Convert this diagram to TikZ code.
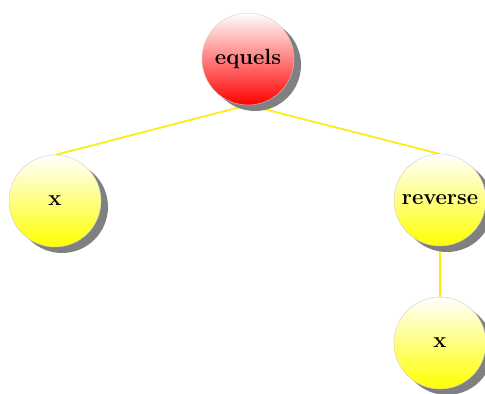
\documentclass[tikz,border=0pt]{standalone}
\usetikzlibrary{shadows}
\begin{document}
\begin{tikzpicture}[x=1pt,y=1pt,
  treenode/.style={circle, minimum size=46pt, inner sep=0pt,
    font=\fontsize{11}{13}\selectfont\bfseries,
    draw=gray!40, line width=0.2pt,
    drop shadow={fill=gray, opacity=1, shadow xshift=3.5pt, shadow yshift=-3pt}},
  rootnode/.style={treenode, top color=white, bottom color=red},
  leafnode/.style={treenode, top color=white, bottom color=yellow},
  edgeshadow/.style={gray!35, line width=0.7pt, yshift=-1pt},
  edgeline/.style={yellow, line width=0.8pt}]
\useasboundingbox (0,0) rectangle (242.5,-197);
\coordinate (r) at (124,-29.5);
\coordinate (l) at (27.5,-100.5);
\coordinate (rv) at (220,-100);
\coordinate (b) at (220,-171.5);
% edge shadows and edges
\draw[edgeshadow] ([yshift=-23pt]r) -- ([yshift=23pt]l);
\draw[edgeshadow] ([yshift=-23pt]r) -- ([yshift=23pt]rv);
\draw[edgeline] ([yshift=-23pt]r) -- ([yshift=23pt]l);
\draw[edgeline] ([yshift=-23pt]r) -- ([yshift=23pt]rv);
\draw[edgeline] ([yshift=-23pt]rv) -- ([yshift=23pt]b);
\node[rootnode] (root) at (r) {equels};
\node[leafnode] (x1) at (l) {x};
\node[leafnode] (rev) at (rv) {reverse};
\node[leafnode] (x2) at (b) {x};
\end{tikzpicture}
\end{document}
